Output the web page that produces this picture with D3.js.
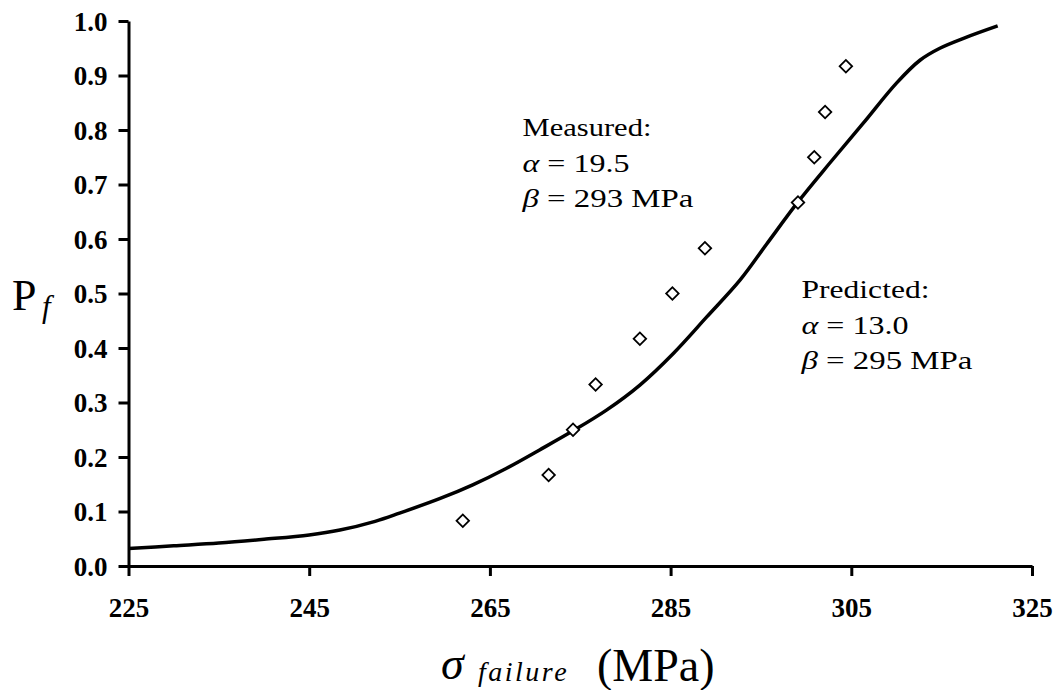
<!DOCTYPE html>
<html>
<head>
<meta charset="utf-8">
<script src="https://cdn.jsdelivr.net/npm/d3@7"></script>
<style>
  body { margin: 0; background: #fff; }
  svg { display: block; }
</style>
</head>
<body>
<div id="my_dataviz"></div>
<script>
// data
var predictedX = [225, 230, 235, 240, 245, 248.4, 252.3, 255.0, 259.5, 263.1, 266.8, 270.5, 274.2, 277.9,
                  281.6, 285.3, 289.0, 292.7, 295.6, 299.1, 302.6, 306.3, 310.0, 312.6, 314.8, 317.7, 321.2];
var predictedP = [0.032, 0.037, 0.042, 0.049, 0.057, 0.066, 0.082, 0.097, 0.124, 0.149, 0.179, 0.213, 0.248, 0.286,
                  0.332, 0.390, 0.457, 0.525, 0.590, 0.668, 0.739, 0.812, 0.886, 0.928, 0.950, 0.970, 0.991];
var measuredX = [262.0, 271.5, 274.2, 276.7, 281.6, 285.2, 288.8, 299.1, 300.9, 302.1, 304.4];
var measuredP = [0.083, 0.167, 0.250, 0.333, 0.417, 0.500, 0.583, 0.667, 0.750, 0.833, 0.917];
var xTicks = [225, 245, 265, 285, 305, 325];
var yTicks = [0.0, 0.1, 0.2, 0.3, 0.4, 0.5, 0.6, 0.7, 0.8, 0.9, 1.0];
var measuredLabel = ["Measured:", "19.5", "293 MPa"];
var predictedLabel = ["Predicted:", "13.0", "295 MPa"];

// set the dimensions and margins of the graph
var margin = {top: 21, right: 27, bottom: 124, left: 128.5},
    width = 1059 - margin.left - margin.right,
    height = 690 - margin.top - margin.bottom;

var root = d3.select("#my_dataviz")
  .append("svg")
    .attr("width", 1059)
    .attr("height", 690);

var svg = root.append("g")
    .attr("transform", "translate(" + margin.left + "," + margin.top + ")");

var x = d3.scaleLinear().domain([225, 325]).range([0, width]);
var y = d3.scaleLinear().domain([0, 1]).range([height, 0]);

// x axis
var gx = svg.append("g")
  .attr("transform", "translate(0," + height + ")")
  .call(d3.axisBottom(x).tickValues(xTicks).tickSize(10).tickPadding(22).tickSizeOuter(0));

// y axis
var gy = svg.append("g")
  .call(d3.axisLeft(y).tickValues(yTicks).tickSize(10).tickPadding(11).tickSizeOuter(0)
    .tickFormat(d3.format(".1f")));

[gx, gy].forEach(function(g) {
  g.select(".domain").attr("stroke", "#000").attr("stroke-width", 3);
  g.selectAll(".tick line").attr("stroke", "#000").attr("stroke-width", 3);
  g.selectAll(".tick text")
    .attr("fill", "#000")
    .style("font-family", "'Liberation Serif', 'Times New Roman', serif")
    .style("font-weight", "bold")
    .style("font-size", "27px");
});
gy.selectAll(".tick text").attr("dy", "0.34em");

// predicted curve
var line = d3.line()
  .x(function(d) { return x(d[0]); })
  .y(function(d) { return y(d[1]); })
  .curve(d3.curveCatmullRom.alpha(0.5));

svg.append("path")
  .datum(d3.zip(predictedX, predictedP))
  .attr("fill", "none")
  .attr("stroke", "#000")
  .attr("stroke-width", 3.5)
  .attr("stroke-linejoin", "round")
  .attr("d", line);

// measured points as open diamonds
svg.selectAll(".pt")
  .data(d3.zip(measuredX, measuredP))
  .enter()
  .append("path")
    .attr("class", "pt")
    .attr("d", d3.symbol().type(d3.symbolSquare).size(78))
    .attr("transform", function(d) { return "translate(" + x(d[0]) + "," + y(d[1]) + ") rotate(45)"; })
    .attr("fill", "#fff")
    .attr("stroke", "#000")
    .attr("stroke-width", 1.8);

// annotation blocks, stretched horizontally like the original
var serif = "'Liberation Serif', 'Times New Roman', serif";

function stretchText(t, px, py, w) {
  var bw = t.node().getComputedTextLength();
  t.attr("transform", "translate(" + px + "," + py + ") scale(" + (w / bw) + ",1)");
}

function annotate(lbl, px, py, widths) {
  var t0 = root.append("text").style("font-family", serif).style("font-size", "25px").text(lbl[0]);
  stretchText(t0, px, py, widths[0]);

  var t1 = root.append("text").style("font-family", serif).style("font-size", "25px");
  t1.append("tspan").style("font-style", "italic").text("\u03b1");
  t1.append("tspan").text(" = " + lbl[1]);
  stretchText(t1, px, py + 35.5, widths[1]);

  var t2 = root.append("text").style("font-family", serif).style("font-size", "25px");
  t2.append("tspan").style("font-style", "italic").text("\u03b2");
  t2.append("tspan").text(" = " + lbl[2]);
  stretchText(t2, px, py + 70.5, widths[2]);
}

annotate(measuredLabel, 522.5, 136, [129, 107, 171]);
annotate(predictedLabel, 801.5, 298, [128, 107, 171]);

// y axis title
var yt = root.append("text")
  .attr("x", 12)
  .attr("y", 310)
  .style("font-family", serif)
  .style("font-size", "44px");
yt.append("tspan").text("P");
yt.append("tspan")
  .attr("x", 42)
  .attr("y", 317)
  .style("font-style", "italic")
  .style("font-size", "31px")
  .text("f");

// x axis title
var xt = root.append("text")
  .attr("x", 441)
  .attr("y", 679)
  .style("font-family", serif)
  .style("font-size", "46px");
xt.append("tspan").style("font-style", "italic").text("\u03c3");
xt.append("tspan")
  .attr("x", 478)
  .attr("y", 681)
  .style("font-style", "italic")
  .style("font-size", "28px")
  .style("letter-spacing", "2.5px")
  .text("failure");
xt.append("tspan")
  .attr("x", 597)
  .attr("y", 681)
  .style("letter-spacing", "0px")
  .text("(MPa)");
</script>
</body>
</html>
